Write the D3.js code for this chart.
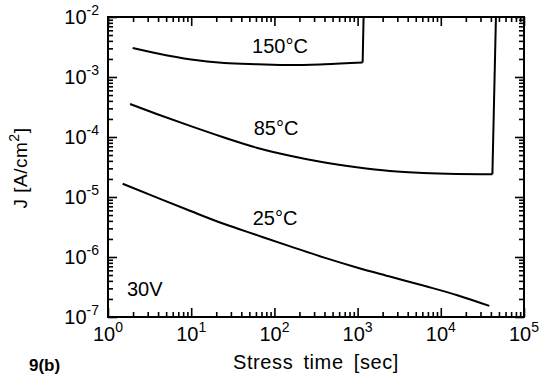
<!DOCTYPE html>
<html>
<head>
<meta charset="utf-8">
<script src="https://cdn.jsdelivr.net/npm/d3@7"></script>
<style>
  body { margin: 0; background: #fff; }
  svg { display: block; font-family: "Liberation Sans", Arial, sans-serif; }
</style>
</head>
<body>
<div id="chart"></div>
<script>
// stress time [sec] and current density J [A/cm2]
var t25 = [1.5, 3.95, 10, 25, 63, 158, 398, 1000, 2500, 6300, 15800, 38300];
var j25 = [1.66e-5, 9.66e-6, 5.78e-6, 3.54e-6, 2.29e-6, 1.49e-6, 9.77e-7, 6.64e-7, 4.69e-7, 3.31e-7, 2.31e-7, 1.53e-7];

var t85 = [1.84, 3.85, 9.7, 24.3, 61, 154, 387, 975, 2450, 6170, 15500, 41700, 46000];
var j85 = [3.55e-4, 2.42e-4, 1.53e-4, 9.9e-5, 6.64e-5, 4.88e-5, 3.79e-5, 3.13e-5, 2.71e-5, 2.51e-5, 2.42e-5, 2.39e-5, 1e-2];

var t150 = [1.98, 3.95, 10, 25, 63, 158, 398, 1150, 1180];
var j150 = [3.05e-3, 2.46e-3, 1.95e-3, 1.71e-3, 1.63e-3, 1.58e-3, 1.63e-3, 1.74e-3, 1e-2];

var xTickVals = [1, 10, 100, 1000, 10000, 100000];
var xTickExp = ["0", "1", "2", "3", "4", "5"];
var yTickVals = [1e-2, 1e-3, 1e-4, 1e-5, 1e-6, 1e-7];
var yTickExp = ["-2", "-3", "-4", "-5", "-6", "-7"];

var curveLabels = ["150°C", "85°C", "25°C"];
var curveLabelPos = [[280, 53], [276, 135], [275, 225]];

var width = 546, height = 379;
var margin = {left: 108, right: 22, top: 17, bottom: 62};

var svg = d3.select("#chart").append("svg")
    .attr("width", width)
    .attr("height", height);

var x = d3.scaleLog().domain([1, 1e5]).range([margin.left, width - margin.right]);
var y = d3.scaleLog().domain([1e-7, 1e-2]).range([height - margin.bottom, margin.top]);

var plot = svg.append("g");

function isMajor(d) {
	var l = Math.log10(d);
	return Math.abs(l - Math.round(l)) < 1e-6;
}

// ticks point into the frame: major ones longer
function styleTicks(g, len, dir, vertical) {
	g.select(".domain").remove();
	g.selectAll(".tick text").remove();
	g.selectAll(".tick line")
	  .attr("stroke", "#000")
	  .attr("stroke-width", 1.6)
	  .each(function(d) {
	  	var L = isMajor(d) ? len * 1.8 : len;
	  	if (vertical) d3.select(this).attr("x2", dir * L);
	  	else d3.select(this).attr("y2", dir * L);
	  });
}

var xt = x.ticks(), yt = y.ticks();

plot.append("g")
   .attr("transform", "translate(0," + y(1e-7) + ")")
   .call(d3.axisBottom(x).tickValues(xt))
   .call(function(g) { styleTicks(g, 5, -1, false); });
plot.append("g")
   .attr("transform", "translate(0," + y(1e-2) + ")")
   .call(d3.axisTop(x).tickValues(xt))
   .call(function(g) { styleTicks(g, 5, 1, false); });
plot.append("g")
   .attr("transform", "translate(" + x(1) + ",0)")
   .call(d3.axisLeft(y).tickValues(yt))
   .call(function(g) { styleTicks(g, 5, 1, true); });
plot.append("g")
   .attr("transform", "translate(" + x(1e5) + ",0)")
   .call(d3.axisRight(y).tickValues(yt))
   .call(function(g) { styleTicks(g, 5, -1, true); });

// frame
plot.append("rect")
   .attr("x", x(1))
   .attr("y", y(1e-2))
   .attr("width", x(1e5) - x(1))
   .attr("height", y(1e-7) - y(1e-2))
   .attr("fill", "none")
   .attr("stroke", "#000")
   .attr("stroke-width", 2);

// tick labels
xTickVals.forEach(function(v, i) {
	var tx = plot.append("text")
	   .attr("x", x(v))
	   .attr("y", 341)
	   .attr("text-anchor", "middle")
	   .attr("font-size", 20);
	tx.append("tspan").text("10");
	tx.append("tspan").attr("dy", -9).attr("font-size", 14).text(xTickExp[i]);
});

yTickVals.forEach(function(v, i) {
	var ty = plot.append("text")
	   .attr("x", x(1) - 9)
	   .attr("y", y(v) + 7)
	   .attr("text-anchor", "end")
	   .attr("font-size", 20);
	ty.append("tspan").text("10");
	ty.append("tspan").attr("dy", -9).attr("font-size", 14).text(yTickExp[i]);
});

// curves
var curveLine = d3.line()
   .x(function(d) { return x(d[0]); })
   .y(function(d) { return y(d[1]); })
   .curve(d3.curveMonotoneX);
var straight = d3.line()
   .x(function(d) { return x(d[0]); })
   .y(function(d) { return y(d[1]); });

function drawcurve(ts, js, hasJump) {
	var pts = ts.map(function(t, i) { return [t, js[i]]; });
	var body = hasJump ? pts.slice(0, -1) : pts;
	plot.append("path")
	   .attr("d", curveLine(body))
	   .attr("fill", "none")
	   .attr("stroke", "#000")
	   .attr("stroke-width", 2);
	if (hasJump) {
		plot.append("path")
		   .attr("d", straight(pts.slice(-2)))
		   .attr("fill", "none")
		   .attr("stroke", "#000")
		   .attr("stroke-width", 2);
	}
}

drawcurve(t25, j25, false);
drawcurve(t85, j85, true);
drawcurve(t150, j150, true);

// curve labels
curveLabels.forEach(function(s, i) {
	plot.append("text")
	   .attr("x", curveLabelPos[i][0])
	   .attr("y", curveLabelPos[i][1])
	   .attr("text-anchor", "middle")
	   .attr("font-size", 20)
	   .text(s);
});

plot.append("text")
   .attr("x", 127)
   .attr("y", 296)
   .attr("font-size", 20)
   .text("30V");

// axis titles
svg.append("text")
   .attr("x", (x(1) + x(1e5)) / 2)
   .attr("y", 369)
   .attr("text-anchor", "middle")
   .attr("font-size", 20)
   .attr("word-spacing", 4)
   .attr("letter-spacing", 0.6)
   .text("Stress time [sec]");

var yl = svg.append("text")
   .attr("transform", "translate(27,168) rotate(-90)")
   .attr("text-anchor", "middle")
   .attr("font-size", 19)
   .attr("letter-spacing", 0.5);
yl.append("tspan").text("J [A/cm");
yl.append("tspan").attr("dy", -8).attr("font-size", 14).text("2");
yl.append("tspan").attr("dy", 8).text("]");

svg.append("text")
   .attr("x", 29)
   .attr("y", 371)
   .attr("font-size", 17)
   .attr("font-weight", "bold")
   .text("9(b)");
</script>
</body>
</html>
